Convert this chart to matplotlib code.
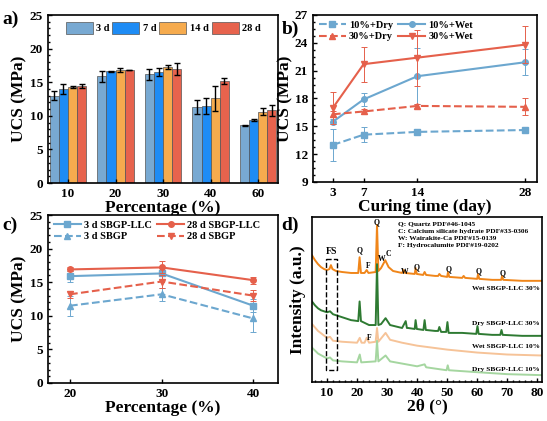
import matplotlib
matplotlib.use('Agg')
import matplotlib.pyplot as plt
import numpy as np

plt.rcParams['font.family'] = ['Liberation Serif', 'DejaVu Serif']
plt.rcParams['font.weight'] = 'bold'
plt.rcParams['axes.labelweight'] = 'bold'
plt.rcParams['axes.linewidth'] = 1.2

# ---- panel a: bar chart
pct_a = ['10', '20', '30', '40', '60']
ages = ['3 d', '7 d', '14 d', '28 d']
ucs_a = [
    [13.0, 15.9, 16.2, 11.3, 8.6],
    [14.0, 16.6, 16.5, 11.5, 9.4],
    [14.3, 16.8, 17.2, 12.6, 10.6],
    [14.5, 16.8, 17.0, 15.2, 10.8],
]
err_a = [
    [0.7, 0.8, 0.8, 1.0, 0.05],
    [0.7, 0.1, 0.6, 1.2, 0.1],
    [0.1, 0.3, 0.3, 1.9, 0.5],
    [0.3, 0.0, 0.9, 0.5, 0.8],
]
bar_colors = ['#78a9d2', '#1e8cf5', '#f6ab4e', '#e7634d']

# ---- panel b: curing time
days = [3, 7, 14, 28]
b_names = ['10%+Dry', '10%+Wet', '30%+Dry', '30%+Wet']
ucs_b = [
    [13.0, 14.1, 14.4, 14.6],
    [15.5, 17.9, 20.4, 21.9],
    [16.3, 16.6, 17.2, 17.1],
    [17.0, 21.7, 22.4, 23.8],
]
err_b = [
    [1.7, 0.8, 0.1, 0.2],
    [0.3, 0.7, 3.0, 1.4],
    [0.3, 0.3, 0.2, 0.9],
    [1.7, 1.9, 3.0, 2.0],
]

# ---- panel c: percentage
pct_c = [20, 30, 40]
c_names = ['3 d SBGP-LLC', '28 d SBGP-LLC', '3 d SBGP', '28 d SBGP']
ucs_c = [
    [15.9, 16.3, 11.5],
    [16.9, 17.2, 15.3],
    [11.5, 13.2, 9.6],
    [13.2, 15.1, 13.0],
]
err_c = [
    [0.8, 0.8, 1.0],
    [0.3, 0.9, 0.5],
    [1.5, 1.0, 2.0],
    [0.5, 0.9, 0.8],
]

# ---- panel d: XRD patterns (2theta, intensity a.u.)
wet30_x = [5, 6, 7, 8, 9, 10, 10.8, 11.3, 11.8, 13, 15, 18, 20.4, 20.85, 21.3, 22.5, 23.2, 23.8,
           26.2, 26.65, 27.1, 28, 29.4, 30.5, 32, 35, 35.5, 36, 39.2, 39.5, 39.9, 42, 42.5, 43,
           46, 47, 47.4, 48, 50, 50.3, 50.7, 55, 55.5, 56, 60, 60.3, 60.7, 65, 68, 68.3, 68.7, 75, 81.5]
wet30_y = [129, 124, 120, 117, 115, 114, 115, 119, 115, 113, 112, 111, 111, 127, 111, 111, 114, 111,
           112, 160, 113, 116, 124, 117, 113, 111, 114, 111, 110, 116, 110, 109, 112, 109,
           108, 108, 110, 108, 107, 112, 107, 106, 108, 106, 105, 110, 105, 104, 104, 108, 104, 103, 103]
dry30_x = [5, 6, 7, 8, 10, 11, 12, 15, 18, 20.4, 20.85, 21.3, 24, 26.2, 26.65, 27.1, 28, 29.5, 31,
           35, 36.2, 36.6, 37, 39.2, 39.5, 39.9, 42.1, 42.5, 42.9, 46, 47, 47.4, 48, 49.7, 50.1, 50.5,
           55, 59.7, 60.1, 60.5, 65, 67.7, 68.1, 68.5, 75, 81.5]
dry30_y = [82, 78, 75, 73, 71, 72, 69, 66, 63, 62, 82, 62, 58, 58, 120, 58, 59, 65, 58,
           55, 62, 55, 55, 54, 63, 54, 53, 63, 53, 52, 52, 56, 51, 51, 61, 50,
           50, 49, 57, 49, 48, 48, 53, 48, 47, 47]
wet10_x = [5, 7, 10, 11, 12, 15, 20, 20.9, 21.5, 22.5, 23.2, 24, 26.2, 26.65, 27.1, 29.5, 31, 35,
           40, 50, 60, 70, 81.5]
wet10_y = [59, 52, 45, 46, 42, 41, 40, 45, 40, 40, 45, 40, 41, 55, 41, 50, 43, 40,
           37, 33, 30, 28, 27]
dry10_x = [5, 7, 10, 11, 12, 15, 20, 20.9, 21.4, 26.2, 26.65, 27.1, 29.5, 31, 40, 42.5, 43,
           49.8, 50.2, 50.6, 60, 70, 81.5]
dry10_y = [35, 29, 24, 25, 22, 21, 20, 28, 20, 21, 42, 21, 27, 21, 16, 18, 15,
           12, 17, 12, 10, 8, 7]
xrd_names = ['Wet SBGP-LLC 30%', 'Dry SBGP-LLC 30%', 'Wet SBGP-LLC 10%', 'Dry SBGP-LLC 10%']
xrd_label_y = [95, 60, 36, 13]
xrd_colors = ['#f0861a', '#2e7a32', '#f6c398', '#a5d6a0']
phase_notes = ['Q: Quartz PDF#46-1045', 'C: Calcium silicate hydrate PDF#33-0306',
               'W: Wairakite-Ca PDF#15-0139', 'F: Hydrocalumite PDF#19-0202']
peak_marks = [('Q', 21, 134), ('F', 23.8, 118), ('W', 28.3, 125), ('C', 30.4, 130), ('W', 36, 112),
              ('Q', 40, 117), ('Q', 50.6, 115), ('Q', 60.6, 113), ('Q', 68.6, 111),
              ('Q', 26.6, 163), ('F', 24, 45)]

blue = '#6ca7cf'
red = '#e5604b'

fig = plt.figure(figsize=(5.47, 4.21), dpi=100)
ax_a = fig.add_axes([0.0878, 0.5653, 0.4205, 0.399])
ax_b = fig.add_axes([0.5722, 0.5677, 0.4095, 0.3967])
ax_c = fig.add_axes([0.0878, 0.0903, 0.4205, 0.399])
ax_d = fig.add_axes([0.5704, 0.0926, 0.4205, 0.392])

tick_fs = 9.5
label_fs = 12.5

# a)
x = np.arange(len(pct_a))
w = 0.19
for i in range(4):
    ax_a.bar(x + (i - 1.5) * w, ucs_a[i], w, yerr=err_a[i], color=bar_colors[i],
             edgecolor='#555555', linewidth=0.5, label=ages[i],
             error_kw=dict(ecolor='black', elinewidth=1, capsize=2, capthick=1))
ax_a.set_xticks(x)
ax_a.set_xticklabels(pct_a)
ax_a.set_xlim(-0.42, 4.42)
ax_a.set_ylim(0, 25)
ax_a.set_yticks([0, 5, 10, 15, 20, 25])
ax_a.set_xlabel('Percentage (%)', fontsize=label_fs, labelpad=0)
ax_a.set_ylabel('UCS (MPa)', fontsize=label_fs, labelpad=2)
ax_a.legend(ncol=4, loc='upper center', frameon=False, fontsize=7.5, handlelength=2.6,
            handleheight=1.3, columnspacing=0.3, handletextpad=0.3, borderaxespad=0.3)


def draw_lines(ax, xs, values, errors, names, styles):
    handles = {}
    for vals, errs, name, (col, ls, mk) in zip(values, errors, names, styles):
        ax.errorbar(xs, vals, yerr=errs, color=col, linestyle='none', elinewidth=0.7,
                    capsize=2, capthick=0.7)
        h, = ax.plot(xs, vals, color=col, linestyle=ls, marker=mk, markersize=4,
                     linewidth=1.5, label=name)
        handles[name] = h
    # legend filled row-wise: names[0], names[1] / names[2], names[3]
    order = [names[0], names[2], names[1], names[3]]
    ax.legend([handles[n] for n in order], order, ncol=2, loc='upper left', frameon=False,
              fontsize=7.5, handlelength=2.6, columnspacing=0.5, handletextpad=0.3,
              labelspacing=0.2, borderaxespad=0.15)


# b)
b_styles = [(blue, '--', 's'), (blue, '-', 'o'), (red, '--', '^'), (red, '-', 'v')]
draw_lines(ax_b, days, ucs_b, err_b, b_names, b_styles)
ax_b.set_xticks(days)
ax_b.set_xlim(0.4, 29.6)
ax_b.set_ylim(9, 27)
ax_b.set_yticks([9, 12, 15, 18, 21, 24, 27])
ax_b.set_xlabel('Curing time (day)', fontsize=label_fs, labelpad=0)
ax_b.set_ylabel('UCS (MPa)', fontsize=label_fs, labelpad=1)

# c)
c_styles = [(blue, '-', 's'), (red, '-', 'o'), (blue, '--', '^'), (red, '--', 'v')]
draw_lines(ax_c, pct_c, ucs_c, err_c, c_names, c_styles)
ax_c.set_xticks(pct_c)
ax_c.set_xlim(17.6, 42.7)
ax_c.set_ylim(0, 25)
ax_c.set_yticks([0, 5, 10, 15, 20, 25])
ax_c.set_xlabel('Percentage (%)', fontsize=label_fs, labelpad=0)
ax_c.set_ylabel('UCS (MPa)', fontsize=label_fs, labelpad=2)

# d)
for xs, ys, col in zip([wet30_x, dry30_x, wet10_x, dry10_x],
                       [wet30_y, dry30_y, wet10_y, dry10_y], xrd_colors):
    ax_d.plot(xs, ys, color=col, linewidth=1.4)
for name, yy in zip(xrd_names, xrd_label_y):
    ax_d.text(81, yy, name, fontsize=5.3, ha='right', va='center')
for i, note in enumerate(phase_notes):
    ax_d.text(33.5, 161 - i * 7.5, note, fontsize=5.3, ha='left', va='center')
for lab, px, py in peak_marks:
    ax_d.text(px, py, lab, fontsize=5.5, ha='center', va='center')
ax_d.plot([9.5, 13.3, 13.3, 9.5, 9.5], [125, 125, 12, 12, 125], 'k--', linewidth=1)
ax_d.text(11.4, 133, 'FS', fontsize=7, ha='center', va='center')
ax_d.set_xlim(5, 81.6)
ax_d.set_ylim(0, 168)
ax_d.set_yticks([])
ax_d.set_xticks([10, 20, 30, 40, 50, 60, 70, 80])
ax_d.set_xlabel('2θ (°)', fontsize=label_fs, labelpad=0)
ax_d.set_ylabel('Intensity (a.u.)', fontsize=label_fs, labelpad=4)

for ax in [ax_a, ax_b, ax_c, ax_d]:
    ax.minorticks_on()
    ax.tick_params(which='both', direction='in', labelsize=tick_fs, width=1)
    ax.tick_params(which='major', length=3)
    ax.tick_params(which='minor', length=1.5)
    for lab in ax.get_xticklabels() + ax.get_yticklabels():
        lab.set_fontweight('bold')
ax_a.tick_params(axis='x', which='minor', bottom=False)
ax_b.tick_params(axis='x', which='minor', bottom=False)
ax_c.tick_params(axis='x', which='minor', bottom=False)
ax_d.tick_params(axis='y', which='both', left=False)

fig.text(0.005, 0.955, 'a)', fontsize=14, fontweight='bold', va='center')
fig.text(0.515, 0.93, 'b)', fontsize=14, fontweight='bold', va='center')
fig.text(0.005, 0.465, 'c)', fontsize=14, fontweight='bold', va='center')
fig.text(0.515, 0.465, 'd)', fontsize=14, fontweight='bold', va='center')

fig.savefig('out.png', dpi=100)
